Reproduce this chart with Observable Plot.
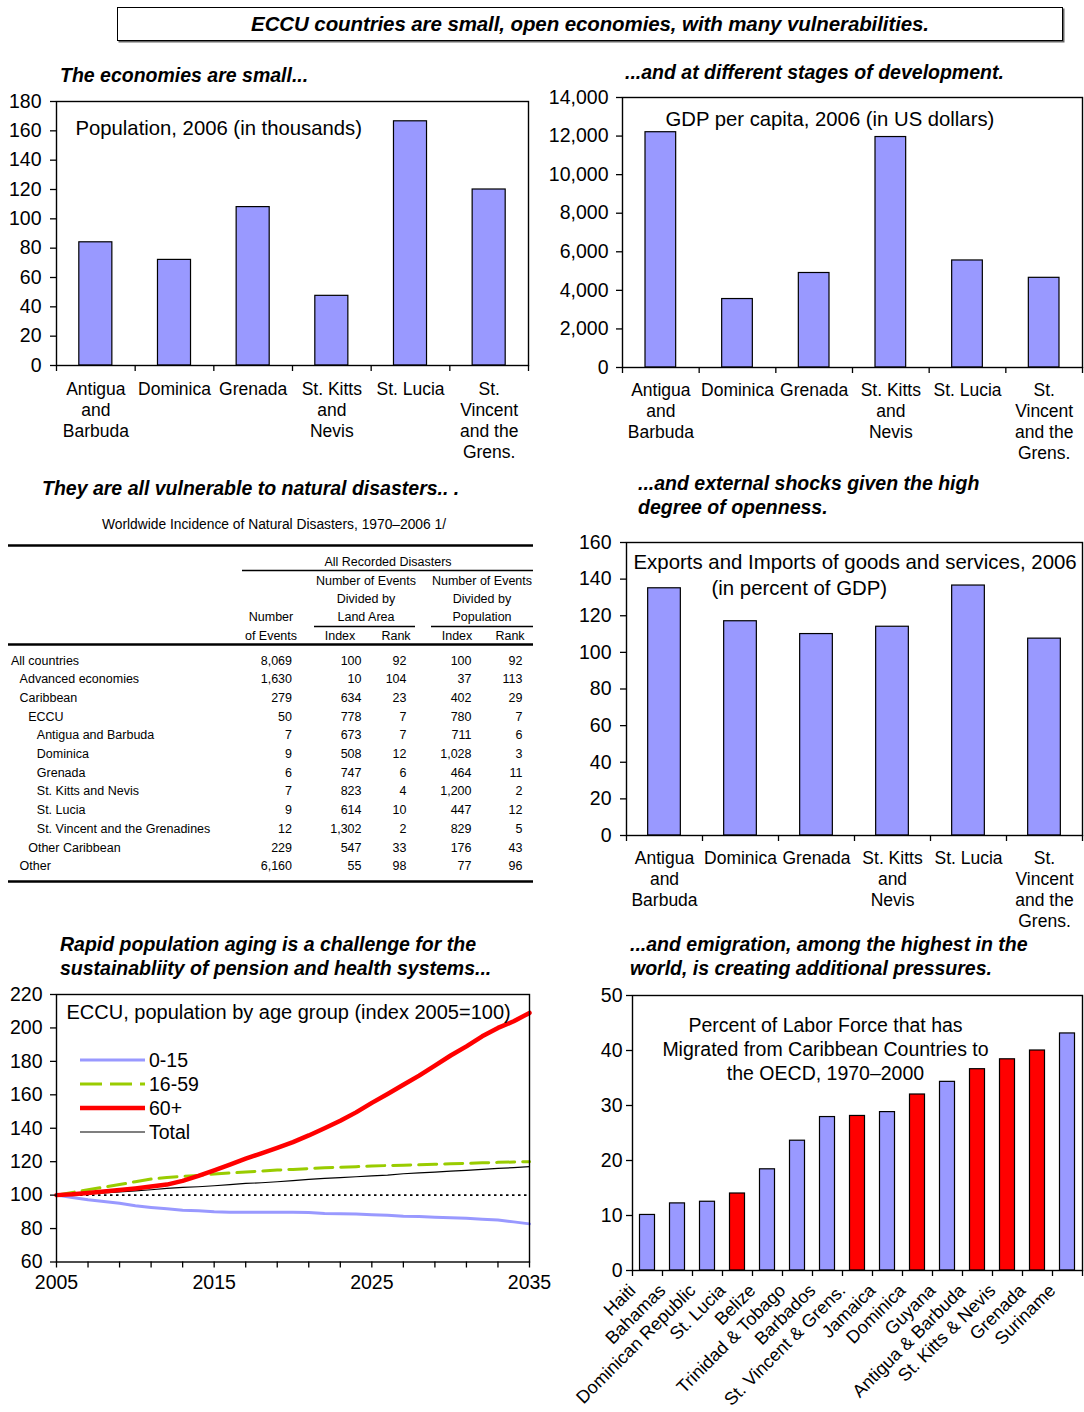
<!DOCTYPE html>
<html><head><meta charset="utf-8">
<script src="https://cdn.jsdelivr.net/npm/d3@7"></script>
<script src="https://cdn.jsdelivr.net/npm/@observablehq/plot@0.6"></script>
<style>
body{margin:0;background:#fff;font-family:"Liberation Sans",Arial,sans-serif;color:#000;}
#root{position:relative;width:1084px;height:1412px;overflow:hidden;background:#fff;}
.pan{position:absolute;}
.pan svg{overflow:visible;background:transparent;}
.ttl{position:absolute;font-weight:bold;font-style:italic;font-size:19.5px;line-height:24.5px;white-space:nowrap;}
</style></head><body><div id="root"></div>
<script>
// ---------------- DATA ----------------
const eccuCountries = ["Antigua and Barbuda","Dominica","Grenada","St. Kitts and Nevis","St. Lucia","St. Vincent and the Grens."];
const eccuLabels = ["Antigua\nand\nBarbuda","Dominica","Grenada","St. Kitts\nand\nNevis","St. Lucia","St.\nVincent\nand the\nGrens."];
const population2006 = [84, 72, 108, 47.5, 166.5, 120];
const gdpPerCapita2006 = [12200, 3550, 4900, 11950, 5550, 4650];
const tradeOpenness2006 = [135, 117, 110, 114, 136.5, 107.5];

const years = d3.range(2005, 2036);
const ageGroups = ["0-15", "16-59", "60+", "Total"];
const age0_15 = [100,98.6,97.2,96.2,95.2,93.6,92.6,91.8,91.0,90.6,90.0,89.8,89.7,89.7,89.7,89.7,89.6,89.0,88.8,88.7,88.3,88.0,87.4,87.2,86.8,86.4,86.1,85.6,85.1,84.0,82.8];
const age16_59 = [100,101.6,103.2,104.8,106.3,108,109.6,110.6,111.2,111.8,112.6,113.2,113.8,114.4,115,115.4,115.9,116.3,116.7,117,117.4,117.7,117.9,118.1,118.4,118.7,119,119.3,119.6,119.8,120];
const age60plus = [100,100.5,101.3,102.2,103,104,105.2,106.3,108.5,111.5,114.8,118.3,121.8,125,128.3,131.7,135.7,140,144.5,149.5,155.2,160.5,166,171.5,177.5,183.5,189,195,200,204,209];
const ageTotal = [100,100.4,100.9,101.4,101.9,102.5,103.2,104,104.6,105,105.6,106.3,107,107.4,108,108.7,109.4,110,110.5,111,111.5,112,112.8,113.3,113.8,114.3,114.8,115.4,116,116.4,117];

const migCountries = ["Haiti","Bahamas","Dominican Republic","St. Lucia","Belize","Trinidad & Tobago","Barbados","St. Vincent & Grens.","Jamaica","Dominica","Guyana","Antigua & Barbuda","St. Kitts & Nevis","Grenada","Suriname"];
const migShare = [10.1, 12.2, 12.5, 14.0, 18.4, 23.6, 27.9, 28.1, 28.8, 32.0, 34.3, 36.6, 38.4, 40.0, 43.1];
const migIsECCU = [0,0,0,1,0,0,0,1,0,1,0,1,1,1,0];

const tblRows = ["All countries","Advanced economies","Caribbean","ECCU","Antigua and Barbuda","Dominica","Grenada","St. Kitts and Nevis","St. Lucia","St. Vincent and the Grenadines","Other Caribbean","Other"];
const tblIndent = [0,1,1,2,3,3,3,3,3,3,2,1];
const tblEvents = ["8,069","1,630","279","50","7","9","6","7","9","12","229","6,160"];
const tblLandIndex = ["100","10","634","778","673","508","747","823","614","1,302","547","55"];
const tblLandRank = ["92","104","23","7","7","12","6","4","10","2","33","98"];
const tblPopIndex = ["100","37","402","780","711","1,028","464","1,200","447","829","176","77"];
const tblPopRank = ["92","113","29","7","6","3","11","2","12","5","43","96"];

// ---------------- HELPERS ----------------
const root = document.getElementById("root");
const FONT = "Liberation Sans, Arial, sans-serif";
const BAR = "#9999FF";

function place(node, left, top) {
  const d = document.createElement("div");
  d.className = "pan"; d.style.left = left + "px"; d.style.top = top + "px";
  d.appendChild(node); root.appendChild(d); return d;
}
function title(lines, left, cy) {
  const d = document.createElement("div");
  d.className = "ttl";
  d.style.left = left + "px";
  d.style.top = (cy - 12.25) + "px";
  d.innerHTML = lines.map(s => s.replace(/&/g,"&amp;")).join("<br>");
  root.appendChild(d);
}

function barPanel({labels, values, yDomain, yTicks, yFormat, width, ml, mr, ph, barFrac, tickPad, labelDy, inner}) {
  const n = values.length, h = barFrac / 2;
  return Plot.plot({
    width, height: 10 + ph + 100,
    marginLeft: ml, marginRight: mr, marginTop: 10, marginBottom: 100,
    style: {fontFamily: FONT, fontSize: "19.5px", color: "#000", background: "transparent", overflow: "visible"},
    x: {domain: [0, n], axis: null},
    y: {domain: yDomain, axis: null},
    marks: [
      Plot.rect(values, {x1: (d, i) => i + 0.5 - h, x2: (d, i) => i + 0.5 + h, y1: 0, y2: d => d, fill: BAR, stroke: "#000", strokeWidth: 1.2}),
      Plot.frame({stroke: "#000", strokeWidth: 1.4}),
      Plot.axisY({ticks: yTicks, tickSize: 6, tickPadding: tickPad, tickFormat: yFormat, fontSize: 19.5, label: null, strokeWidth: 1.3}),
      Plot.axisX({ticks: d3.range(n + 1), tickSize: 6, tickFormat: () => "", label: null, strokeWidth: 1.3}),
      Plot.text(labels, {x: (d, i) => i + 0.5, frameAnchor: "bottom", dy: labelDy, lineAnchor: "top", textAnchor: "middle", fontSize: 17.5, lineHeight: 1.2}),
      ...inner.map(t => Plot.text([t.text], {frameAnchor: t.anchor || "top-left", dx: t.dx, dy: t.dy, textAnchor: t.ta || "start", lineAnchor: "middle", fontSize: t.fs || 20, lineHeight: 1.22}))
    ]
  });
}

// ---------------- TOP TITLE ----------------
{
  const b = document.createElement("div");
  Object.assign(b.style, {position: "absolute", left: "117px", top: "7px", width: "944px", height: "32px",
    border: "1px solid #000", boxShadow: "1.5px 1.5px 0 #666", textAlign: "center", lineHeight: "32px",
    fontWeight: "bold", fontStyle: "italic", fontSize: "20.5px", letterSpacing: "-0.1px", whiteSpace: "nowrap"});
  b.textContent = "ECCU countries are small, open economies, with many vulnerabilities.";
  root.appendChild(b);
}

// ---------------- PANEL 1 ----------------
title(["The economies are small..."], 60, 75);
place(barPanel({labels: eccuLabels, values: population2006, yDomain: [0, 180], yTicks: d3.range(0, 181, 20),
  yFormat: d => String(d), width: 540, ml: 56, mr: 12, ph: 264, barFrac: 0.42, tickPad: 9, labelDy: 15,
  inner: [{text: "Population, 2006 (in thousands)", dx: 19, dy: 26, fs: 20.3}]}), 0, 91);

// ---------------- PANEL 2 ----------------
title(["...and at different stages of development."], 625, 72);
place(barPanel({labels: eccuLabels, values: gdpPerCapita2006, yDomain: [0, 14000], yTicks: d3.range(0, 14001, 2000),
  yFormat: d3.format(","), width: 544, ml: 82, mr: 2, ph: 270, barFrac: 0.4, tickPad: 8, labelDy: 14,
  inner: [{text: "GDP per capita, 2006 (in US dollars)", dx: 43, dy: 21, fs: 20.3}]}), 540, 87);

// ---------------- PANEL 4 ----------------
title(["...and external shocks given the high", "degree of openness."], 638, 483);
place(barPanel({labels: eccuLabels, values: tradeOpenness2006, yDomain: [0, 160], yTicks: d3.range(0, 161, 20),
  yFormat: d => String(d), width: 544, ml: 86, mr: 2, ph: 293, barFrac: 0.43, tickPad: 9, labelDy: 14,
  inner: [{text: "Exports and Imports of goods and services, 2006", dx: 7, dy: 19, fs: 20.4},
          {text: "(in percent of GDP)", dx: 85, dy: 45, fs: 20.4}]}), 540, 532);

// ---------------- PANEL 3 (TABLE) ----------------
title(["They are all vulnerable to natural disasters.. ."], 42, 488);
{
  const top = 500;
  const svg = d3.create("svg").attr("width", 540).attr("height", 400)
    .style("font-family", FONT).style("overflow", "visible");
  const T = (x, y, s, anchor, size = 12.5) => svg.append("text").attr("x", x).attr("y", y - top)
    .attr("text-anchor", anchor).attr("dominant-baseline", "central").attr("font-size", size).attr("fill", "#000").text(s);
  const L = (x1, x2, y, w) => svg.append("line").attr("x1", x1).attr("x2", x2).attr("y1", y - top).attr("y2", y - top)
    .attr("stroke", "#000").attr("stroke-width", w);
  T(274, 524, "Worldwide Incidence of Natural Disasters, 1970\u20132006 1/", "middle", 13.8);
  L(8, 533, 545.5, 2.5);
  T(388, 561.5, "All Recorded Disasters", "middle");
  L(242, 533, 570.5, 1.5);
  ["Number of Events", "Divided by", "Land Area"].forEach((s, i) => T(366, 580.5 + i * 18, s, "middle"));
  ["Number of Events", "Divided by", "Population"].forEach((s, i) => T(482, 580.5 + i * 18, s, "middle"));
  T(271, 616.5, "Number", "middle");
  T(271, 635.5, "of Events", "middle");
  L(314, 415, 626.5, 1.5);
  L(431, 533, 626.5, 1.5);
  T(340, 635.5, "Index", "middle"); T(396, 635.5, "Rank", "middle");
  T(457, 635.5, "Index", "middle"); T(510, 635.5, "Rank", "middle");
  L(8, 533, 644.5, 2.5);
  tblRows.forEach((r, i) => {
    const y = 660.5 + i * 18.7;
    T(11 + tblIndent[i] * 8.6, y, r, "start");
    T(292, y, tblEvents[i], "end");
    T(361.5, y, tblLandIndex[i], "end");
    T(406.5, y, tblLandRank[i], "end");
    T(471.5, y, tblPopIndex[i], "end");
    T(522.5, y, tblPopRank[i], "end");
  });
  L(8, 533, 881.5, 2.5);
  place(svg.node(), 0, top);
}

// ---------------- PANEL 5 (LINES) ----------------
title(["Rapid population aging is a challenge for the", "sustainabliity of pension and health systems..."], 60, 944);
const ageSeries = [age0_15, age16_59, age60plus, ageTotal];
const ageColors = ["#9999FF", "#99CC00", "#FF0000", "#000000"];
const ageWidths = [3, 3, 4.5, 1.2];
const ageDash = [null, "18,8", null, null];
{
  const order = [0, 3, 1, 2];
  const p = Plot.plot({
    width: 560, height: 318, marginLeft: 56, marginRight: 31, marginTop: 10, marginBottom: 40.5,
    style: {fontFamily: FONT, fontSize: "19.5px", color: "#000", background: "transparent", overflow: "visible"},
    x: {domain: [2005, 2035], axis: null},
    y: {domain: [60, 220], axis: null},
    marks: [
      Plot.ruleY([100], {stroke: "#000", strokeWidth: 1.6, strokeDasharray: "2.5,3.5"}),
      ...order.map(k => Plot.line(years, {x: d => d, y: (d, i) => ageSeries[k][i], stroke: ageColors[k],
        strokeWidth: ageWidths[k], strokeDasharray: ageDash[k], strokeLinecap: "round", strokeLinejoin: "round"})),
      Plot.frame({stroke: "#000", strokeWidth: 1.4}),
      Plot.axisY({ticks: d3.range(60, 221, 20), tickSize: 6, tickPadding: 8, fontSize: 19.5, label: null, strokeWidth: 1.3}),
      Plot.axisX({ticks: d3.range(2005, 2036, 2), tickSize: 6, tickPadding: 7, fontSize: 19.5, label: null, strokeWidth: 1.3,
        tickFormat: d => (d - 2005) % 10 === 0 ? String(d) : ""}),
      Plot.text(["ECCU, population by age group (index 2005=100)"], {frameAnchor: "top-left", dx: 10, dy: 18, textAnchor: "start", lineAnchor: "middle", fontSize: 20})
    ]
  });
  place(p, 0, 984);
  // legend
  const lg = d3.create("svg").attr("width", 140).attr("height", 100).style("font-family", FONT).style("overflow", "visible");
  ageGroups.forEach((g, i) => {
    const y = 15 + i * 24;
    lg.append("line").attr("x1", 5).attr("x2", 70).attr("y1", y).attr("y2", y)
      .attr("stroke", ageColors[i]).attr("stroke-width", ageWidths[i]).attr("stroke-dasharray", ageDash[i] ? "22,8" : null);
    lg.append("text").attr("x", 74).attr("y", y).attr("dominant-baseline", "central").attr("font-size", 19.5).text(g);
  });
  place(lg.node(), 75, 1045);
}

// ---------------- PANEL 6 (MIGRATION) ----------------
title(["...and emigration, among the highest in the", "world, is creating additional pressures."], 630, 944);
{
  const n = migShare.length;
  const p = Plot.plot({
    width: 539, height: 427, marginLeft: 87, marginRight: 2, marginTop: 10, marginBottom: 142,
    style: {fontFamily: FONT, fontSize: "19.5px", color: "#000", background: "transparent", overflow: "visible"},
    x: {domain: [0, n], axis: null},
    y: {domain: [0, 50], axis: null},
    marks: [
      Plot.rect(migShare, {x1: (d, i) => i + 0.25, x2: (d, i) => i + 0.75, y1: 0, y2: d => d,
        fill: (d, i) => migIsECCU[i] ? "#FF0000" : BAR, stroke: "#000", strokeWidth: 1.2}),
      Plot.frame({stroke: "#000", strokeWidth: 1.4}),
      Plot.axisY({ticks: d3.range(0, 51, 10), tickSize: 6, tickPadding: 4, fontSize: 19.5, label: null, strokeWidth: 1.3}),
      Plot.axisX({ticks: d3.range(n + 1), tickSize: 6, tickFormat: () => "", label: null, strokeWidth: 1.3}),
      Plot.text(migCountries, {x: (d, i) => i + 0.5, frameAnchor: "bottom", rotate: -45, textAnchor: "end",
        lineAnchor: "middle", dx: -15, dy: 17, fontSize: 18}),
      Plot.text(["Percent of Labor Force that has\nMigrated from Caribbean Countries to\nthe OECD, 1970\u20132000"],
        {frameAnchor: "top", dx: -32, dy: 53, textAnchor: "middle", lineAnchor: "middle", fontSize: 19.5, lineHeight: 1.24})
    ]
  });
  place(p, 545, 985);
}
</script></body></html>
